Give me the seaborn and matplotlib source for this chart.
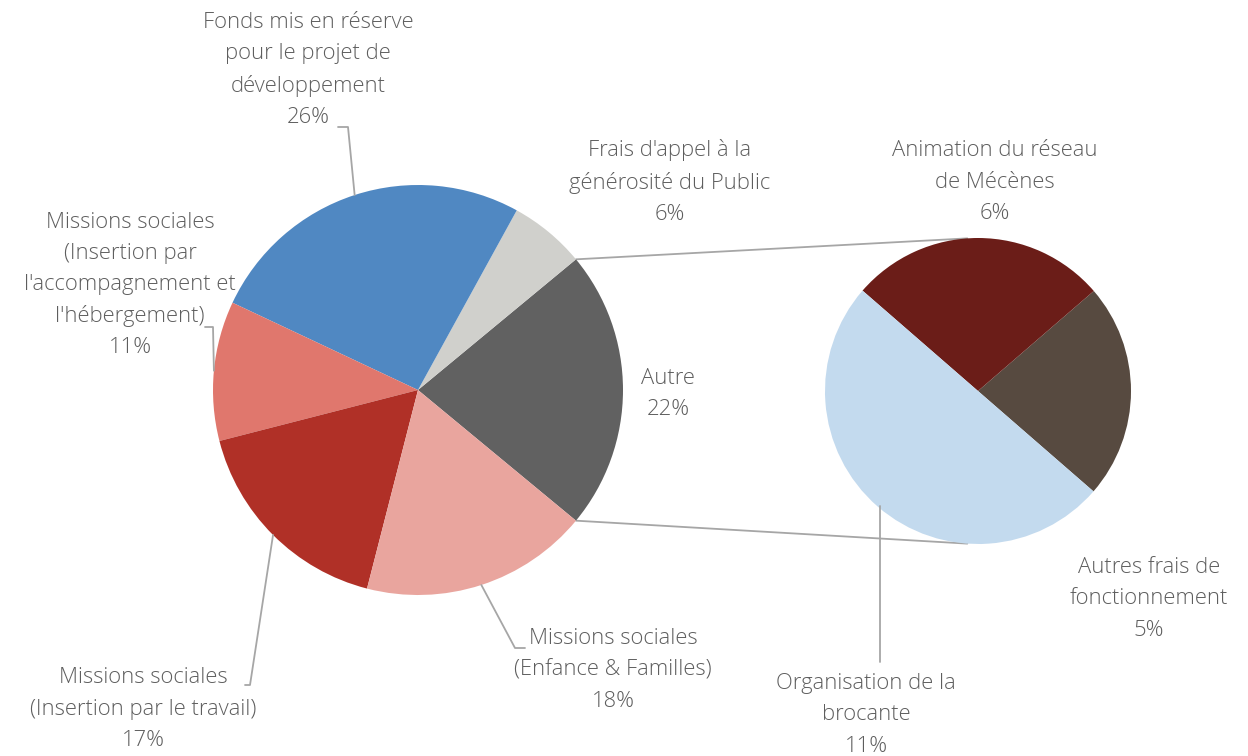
import numpy as np
import matplotlib.pyplot as plt
import seaborn as sns

# main pie, counter-clockwise starting from the exploded "Autre" slice
main_labels = ["Autre\n22%",
               "Frais d'appel à la\ngénérosité du Public\n6%",
               "Fonds mis en réserve\npour le projet de\ndéveloppement\n26%",
               "Missions sociales\n(Insertion par\nl'accompagnement et\nl'hébergement)\n11%",
               "Missions sociales\n(Insertion par le travail)\n17%",
               "Missions sociales\n(Enfance & Familles)\n18%"]
main_values = [22, 6, 26, 11, 17, 18]
main_colors = ["#616161", "#D0D0CC", "#5088C2", "#E0776D", "#B03027", "#E9A59E"]

# secondary pie (breakdown of "Autre")
sub_labels = ["Autres frais de\nfonctionnement\n5%",
              "Animation du réseau\nde Mécènes\n6%",
              "Organisation de la\nbrocante\n11%"]
sub_values = [5, 6, 11]
sub_colors = ["#574A40", "#6B1D18", "#C3DAEE"]

sns.set_theme(style="white")
plt.rcParams['font.family'] = ['Open Sans', 'DejaVu Sans']

W, H = 1248, 756
TXT = "#5E5E5E"
LINE = "#A6A6A6"
FS = 15.8

def P(x, y):
    # pixel (y down) -> data (y up)
    return x, H - y

main_c, main_r = P(418, 390), 205
sub_c, sub_r = P(978, 391), 153

fig = plt.figure(figsize=(12.48, 7.56), dpi=100)
ax = fig.add_axes([0, 0, 1, 1])

start = -360 * main_values[0] / sum(main_values) / 2
w_main, _ = ax.pie(main_values, colors=main_colors, startangle=start, counterclock=True,
                   center=main_c, radius=main_r, frame=True,
                   wedgeprops=dict(linewidth=0))
w_sub, _ = ax.pie(sub_values, colors=sub_colors, startangle=-41, counterclock=True,
                  center=sub_c, radius=sub_r, frame=True,
                  wedgeprops=dict(linewidth=0))

ax.set_xlim(0, W)
ax.set_ylim(0, H)
ax.set_aspect('auto')
ax.axis('off')


def edge(center, r, ang):
    a = np.deg2rad(ang)
    return center[0] + r * np.cos(a), center[1] + r * np.sin(a)


# connector lines between the two pies
autre = w_main[0]
for th_main, th_sub in [(autre.theta2, 94), (autre.theta1, -94)]:
    x0, y0 = edge(main_c, main_r, th_main)
    x1, y1 = edge(sub_c, sub_r, th_sub)
    ax.plot([x0, x1], [y0, y1], color=LINE, lw=1.3, zorder=0.5)

# label positions (pixel centre) and optional leader elbow/end points
main_pos = [(668, 394), (670, 182), (308, 70), (130, 285), (143, 709), (613, 670)]
main_lead = [None, None, [(348, 127), (338, 127)], [(213, 327), (205, 327)],
             [(250, 685), (245, 685)], [(515, 648), (525, 648)]]
sub_pos = [(1149, 599), (995, 182), (866, 715)]
sub_lead = [None, None, [(880, 662)]]


def draw_labels(wedges, center, r, labels, pos, leads):
    for w, lab, (x, y), ld in zip(wedges, labels, pos, leads):
        ax.text(*P(x, y), lab, ha='center', va='center', color=TXT,
                fontsize=FS, linespacing=1.63, fontweight='light')
        if ld:
            mid = (w.theta1 + w.theta2) / 2
            pts = [edge(center, r, mid)] + [P(*p) for p in ld]
            xs, ys = zip(*pts)
            if len(pts) == 2:
                xs = (xs[1], xs[1])
            ax.plot(xs, ys, color=LINE, lw=1.3)


draw_labels(w_main, main_c, main_r, main_labels, main_pos, main_lead)
draw_labels(w_sub, sub_c, sub_r, sub_labels, sub_pos, sub_lead)

fig.savefig("out.png", dpi=100, facecolor="white")
